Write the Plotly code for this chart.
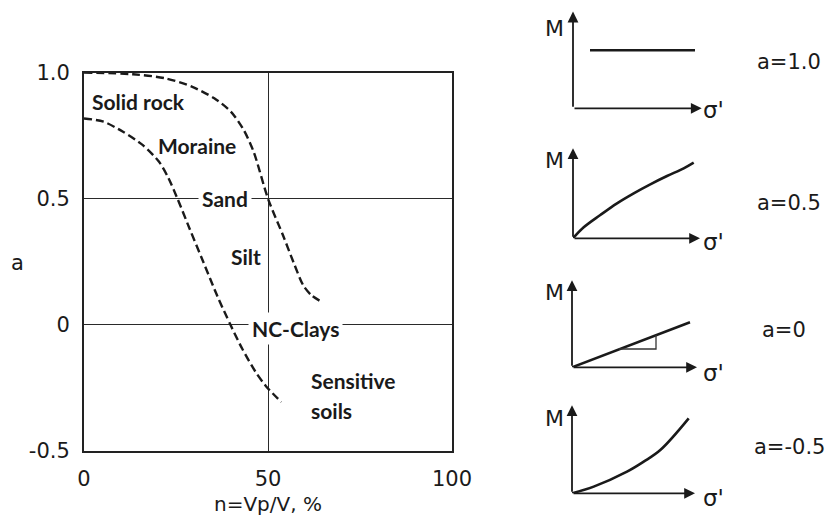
import plotly.graph_objects as go

W, H = 827, 516

# ---- main chart data ----
upper_x = [0, 13.3, 22.1, 29.3, 35.4, 39.9, 43.4, 46.1, 50, 54.1, 56.9, 59.6, 61.9, 64.7]
upper_y = [1.0, 0.993, 0.977, 0.944, 0.898, 0.845, 0.772, 0.686, 0.5, 0.354, 0.249, 0.156, 0.116, 0.09]
lower_x = [0, 5.3, 10.6, 16, 20.4, 23.0, 25.4, 28.7, 32.4, 36.2, 39.8, 43.0, 46.6, 49.4, 53.6]
lower_y = [0.818, 0.805, 0.765, 0.712, 0.646, 0.58, 0.5, 0.381, 0.25, 0.115, 0.0, -0.095, -0.186, -0.242, -0.306]

x_ticks = [0, 50, 100]
x_ticktext = ["0", "50", "100"]
y_ticks = [-0.5, 0, 0.5, 1.0]
y_ticktext = ["-0.5", "0", "0.5", "1.0"]

soil_labels = ["Solid rock", "Moraine", "Sand", "Silt", "NC-Clays", "Sensitive", "soils"]
soil_x = [1.8, 19.9, 31.0, 39.7, 44.5, 61.4, 61.4]
soil_y = [0.884, 0.712, 0.5, 0.269, -0.016, -0.22, -0.34]
soil_bg = [False, False, True, False, True, False, False]

# ---- mini panels data (local units) ----
panel_labels = ["a=1.0", "a=0.5", "a=0", "a=-0.5"]
p1_x = [17, 122]
p1_y = [58, 58]
p2_x = [0, 10.7, 27.3, 44, 60.7, 77.3, 94, 110.7, 120.7]
p2_y = [0, 11, 23.3, 35, 45, 54, 62.3, 70, 75.7]
p3_x = [0, 118]
p3_y = [0, 45]
p3_tri_x = [47, 84, 84]
p3_tri_y = [18.3, 18.3, 32.5]
p4_x = [0, 21.7, 55, 71.7, 88.3, 116.7]
p4_y = [0, 6.7, 21.7, 31.7, 43.3, 75]
panel_curves = [(p1_x, p1_y), (p2_x, p2_y), (p3_x, p3_y), (p4_x, p4_y)]
v_axis_len = [96.7, 90, 87, 88]
h_axis_len = [128.7, 127, 125, 123]

# panel origins in pixels
origins = [(573, 108.3), (573, 238.3), (572, 367.3), (572, 493.3)]
label_y_px = [62, 203, 330, 447]
label_x_px = [755, 755, 760, 752]
m_y_px = [29, 160, 292, 418]
s_y_px = [110, 242, 373, 498]


def px(x):
    return x / W


def py(y):
    return 1 - y / H


fig = go.Figure()

dark = "#1a1a1a"
for xs, ys in [(upper_x, upper_y), (lower_x, lower_y)]:
    fig.add_trace(go.Scatter(x=xs, y=ys, mode="lines",
                             line=dict(color=dark, width=2.4, dash="8px,4px", shape="spline", smoothing=0.8),
                             xaxis="x", yaxis="y", showlegend=False, hoverinfo="skip"))

annotations = []
for t, xx, yy, bg in zip(soil_labels, soil_x, soil_y, soil_bg):
    annotations.append(dict(x=xx, y=yy, xref="x", yref="y", text="<b>%s</b>" % t, showarrow=False,
                            xanchor="left", yanchor="middle",
                            font=dict(family="Lato", size=21, color=dark),
                            bgcolor="white" if bg else None, borderpad=3 if bg else 0))

annotations.append(dict(x=px(17), y=py(263), xref="paper", yref="paper", text="a", showarrow=False,
                        font=dict(family="DejaVu Sans", size=21, color=dark), xanchor="center", yanchor="middle"))
annotations.append(dict(x=px(268), y=py(504), xref="paper", yref="paper", text="n=Vp/V, %", showarrow=False,
                        font=dict(family="DejaVu Sans", size=20, color=dark), xanchor="center", yanchor="middle"))

axis_common = dict(showgrid=True, gridcolor="#2a2a2a", gridwidth=1.3, zeroline=False,
                   showline=True, mirror=True, linecolor="#222", linewidth=2,
                   ticks="outside", ticklen=8, tickcolor="rgba(0,0,0,0)",
                   tickfont=dict(family="DejaVu Sans", size=21, color=dark), fixedrange=True, automargin=False)

layout = dict(
    width=W, height=H, autosize=False, margin=dict(l=0, r=0, t=0, b=0, pad=0, autoexpand=False),
    paper_bgcolor="white", plot_bgcolor="white",
    xaxis=dict(domain=[px(84), px(452)], range=[0, 100], tickvals=x_ticks, ticktext=x_ticktext, **axis_common),
    yaxis=dict(domain=[py(451), py(72.5)], range=[-0.5, 1.0], tickvals=y_ticks, ticktext=y_ticktext, **axis_common),
)

for i, ((ox, oy), (cx, cy)) in enumerate(zip(origins, panel_curves)):
    n = i + 2
    xa, ya = "x%d" % n, "y%d" % n
    layout["xaxis%d" % n] = dict(domain=[px(ox), px(ox + 140)], range=[0, 140], visible=False,
                                 fixedrange=True, anchor=ya, automargin=False)
    layout["yaxis%d" % n] = dict(domain=[py(oy), py(oy - 100)], range=[0, 100], visible=False,
                                 fixedrange=True, anchor=xa, automargin=False)
    fig.add_trace(go.Scatter(x=cx, y=cy, mode="lines", line=dict(color=dark, width=2.6, shape="spline"),
                             xaxis=xa, yaxis=ya, showlegend=False, hoverinfo="skip"))
    if i == 2:
        fig.add_trace(go.Scatter(x=p3_tri_x, y=p3_tri_y, mode="lines", line=dict(color="#333", width=1.3),
                                 xaxis=xa, yaxis=ya, showlegend=False, hoverinfo="skip"))
    annotations.append(dict(x=0, y=v_axis_len[i], ax=0, ay=0, xref=xa, yref=ya, axref=xa, ayref=ya,
                            text="", showarrow=True, arrowhead=2, arrowsize=1.2, arrowwidth=1.8, arrowcolor=dark))
    annotations.append(dict(x=h_axis_len[i], y=0, ax=0, ay=0, xref=xa, yref=ya, axref=xa, ayref=ya,
                            text="", showarrow=True, arrowhead=2, arrowsize=1.2, arrowwidth=1.8, arrowcolor=dark))
    annotations.append(dict(x=px(554), y=py(m_y_px[i]), xref="paper", yref="paper", text="M", showarrow=False,
                            font=dict(family="DejaVu Sans", size=22, color=dark), xanchor="center", yanchor="middle"))
    annotations.append(dict(x=px(701), y=py(s_y_px[i]), xref="paper", yref="paper", text="σ'", showarrow=False,
                            font=dict(family="DejaVu Sans", size=23, color=dark), xanchor="left", yanchor="middle"))
    annotations.append(dict(x=px(label_x_px[i]), y=py(label_y_px[i]), xref="paper", yref="paper",
                            text=panel_labels[i], showarrow=False,
                            font=dict(family="DejaVu Sans", size=21, color=dark),
                            xanchor="left", yanchor="middle"))

layout["annotations"] = annotations
fig.update_layout(**layout)
fig.write_html("out.html")
